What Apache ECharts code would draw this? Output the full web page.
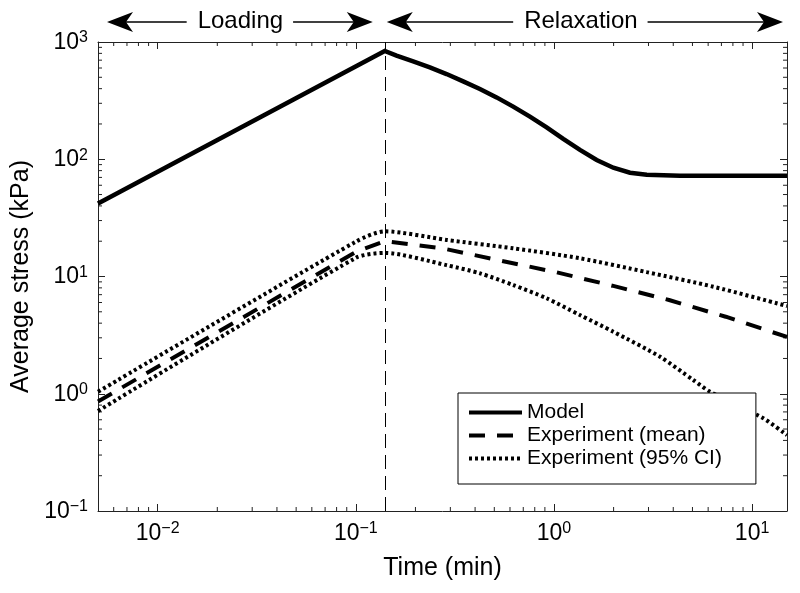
<!DOCTYPE html>
<html><head><meta charset="utf-8">
<script src="https://cdn.jsdelivr.net/npm/echarts@6/dist/echarts.min.js"></script>
<style>html,body{margin:0;padding:0;background:#fff}#c{width:800px;height:593px}</style>
</head><body><div id="c"></div>
<script>
const FONT = "'Liberation Sans', Arial, Helvetica, sans-serif";

// ---- data ----
const modelTime   = [0.005, 0.14, 0.1605, 0.1948, 0.2364, 0.2871, 0.3482, 0.4229, 0.5135, 0.6228, 0.7563, 0.9186, 1.114, 1.353, 1.643, 1.993, 2.42, 2.94, 3.57, 4.33, 15];
const modelStress = [42, 838, 764, 684, 608, 533, 462, 397, 337, 281, 231, 187, 149, 120, 98.5, 84.7, 76.8, 73.8, 72.9, 72.4, 72.4];
const meanTime    = [0.005, 0.1, 0.14, 0.273, 0.523, 1.02, 1.97, 3.81, 7.36, 15];
const meanStress  = [0.86, 16.2, 20.0, 17.4, 13.8, 10.9, 8.35, 6.30, 4.54, 3.05];
const upperTime   = [0.005, 0.1, 0.14, 0.287, 0.623, 1.353, 2.94, 6.38, 15];
const upperStress = [1.04, 19.8, 24.3, 20.5, 17.4, 14.3, 10.9, 8.18, 5.6];
const lowerTime   = [0.005, 0.1, 0.14, 0.287, 0.423, 0.623, 0.918, 1.353, 1.993, 3.43, 5.05, 6.14, 11.4, 15];
const lowerStress = [0.713, 14.4, 15.9, 12.5, 10.65, 8.46, 6.52, 4.69, 3.38, 2.07, 1.31, 1.04, 0.617, 0.443];
const loadEnd = 0.14;
const xRange = [0.005, 15];
const yRange = [0.1, 1000];
const seriesNames = ['Model', 'Experiment (mean)', 'Experiment (95% CI)'];
const phaseLabels = ['Loading', 'Relaxation'];

const zip = (a, b) => a.map((v, i) => [v, b[i]]);

// minor tick positions (2..9 x 10^k) inside the ranges
function minors(r) {
  const out = [];
  for (let k = -4; k <= 4; k++) for (let m = 2; m <= 9; m++) {
    const v = m * Math.pow(10, k);
    if (v > r[0] * 1.0001 && v < r[1] * 0.9999) out.push(v);
  }
  return out;
}
const xMinor = minors(xRange);
const yMinor = minors(yRange);

function powLabel(v) {
  const l = Math.log10(v), e = Math.round(l);
  if (Math.abs(l - e) > 1e-6) return '';
  return '{b|10}{s|' + (e < 0 ? '\u2212' + (-e) : String(e)) + '}';
}
const rich = {
  b: { fontSize: 23, fontFamily: FONT, color: '#000', verticalAlign: 'bottom', lineHeight: 24, padding: [4, 0, 0, 0] },
  s: { fontSize: 16, fontFamily: FONT, color: '#000', verticalAlign: 'top', lineHeight: 16 }
};
const AX = '#222';

const chart = echarts.init(document.getElementById('c'), null, { renderer: 'canvas' });

const tickLen = 4;
const option = {
  animation: false,
  backgroundColor: '#fff',
  grid: { left: 98, right: 13, top: 42, bottom: 82, containLabel: false },
  xAxis: [
    { type: 'log', logBase: 10, min: xRange[0], max: xRange[1], position: 'bottom',
      name: 'Time (min)', nameLocation: 'middle', nameGap: 45,
      nameTextStyle: { fontFamily: FONT, fontSize: 25, color: '#000' },
      axisLine: { show: true, lineStyle: { color: AX, width: 1 } },
      axisTick: { show: true, inside: true, length: 7, lineStyle: { color: AX } },
      axisLabel: { formatter: powLabel, rich: rich, margin: 10, showMinLabel: false, showMaxLabel: false },
      splitLine: { show: false }, minorTick: { show: false } },
    { type: 'log', logBase: 10, min: xRange[0], max: xRange[1], position: 'top',
      axisLine: { show: true, lineStyle: { color: AX, width: 1 } },
      axisTick: { show: true, inside: true, length: 7, lineStyle: { color: AX } },
      axisLabel: { show: false }, splitLine: { show: false } }
  ],
  yAxis: [
    { type: 'log', logBase: 10, min: yRange[0], max: yRange[1], position: 'left',
      name: 'Average stress (kPa)', nameLocation: 'middle', nameGap: 57,
      nameTextStyle: { fontFamily: FONT, fontSize: 25, color: '#000' },
      axisLine: { show: true, lineStyle: { color: AX, width: 1 } },
      axisTick: { show: true, inside: true, length: 7, lineStyle: { color: AX } },
      axisLabel: { formatter: powLabel, rich: rich, margin: 10 },
      splitLine: { show: false } },
    { type: 'log', logBase: 10, min: yRange[0], max: yRange[1], position: 'right',
      axisLine: { show: true, lineStyle: { color: AX, width: 1 } },
      axisTick: { show: true, inside: true, length: 7, lineStyle: { color: AX } },
      axisLabel: { show: false }, splitLine: { show: false } }
  ],
  legend: {
    data: seriesNames, orient: 'vertical', left: 458, top: 393,
    itemWidth: 53, itemHeight: 14, itemGap: 2,
    padding: [9, 34, 15, 9],
    borderColor: '#000', borderWidth: 1, backgroundColor: '#fff',
    textStyle: { fontFamily: FONT, fontSize: 21, color: '#000' },
    itemStyle: { color: 'rgba(0,0,0,0)', borderColor: 'rgba(0,0,0,0)', borderWidth: 0, opacity: 0 },
    lineStyle: { width: 4 },
    selectedMode: false, z: 10
  },
  series: [
    { type: 'custom', silent: true, z: 1, data: xMinor.map(v => [v, 1]),
      renderItem: (p, api) => {
        const v = api.value(0);
        const b = api.coord([v, yRange[0]]), t = api.coord([v, yRange[1]]);
        return { type: 'group', children: [
          { type: 'line', shape: { x1: b[0], y1: b[1], x2: b[0], y2: b[1] - tickLen }, style: { stroke: AX, lineWidth: 1 } },
          { type: 'line', shape: { x1: t[0], y1: t[1], x2: t[0], y2: t[1] + tickLen }, style: { stroke: AX, lineWidth: 1 } }
        ] };
      } },
    { type: 'custom', silent: true, z: 1, data: yMinor.map(v => [1, v]),
      renderItem: (p, api) => {
        const v = api.value(1);
        const l = api.coord([xRange[0], v]), r = api.coord([xRange[1], v]);
        return { type: 'group', children: [
          { type: 'line', shape: { x1: l[0], y1: l[1], x2: l[0] + tickLen, y2: l[1] }, style: { stroke: AX, lineWidth: 1 } },
          { type: 'line', shape: { x1: r[0], y1: r[1], x2: r[0] - tickLen, y2: r[1] }, style: { stroke: AX, lineWidth: 1 } }
        ] };
      } },
    { name: seriesNames[0], type: 'line', data: zip(modelTime, modelStress), symbol: 'none', z: 3,
      itemStyle: { color: '#000' }, lineStyle: { color: '#000', width: 4.5, join: 'miter' },
      markLine: { silent: true, symbol: ['none', 'none'], label: { show: false },
        lineStyle: { color: '#000', width: 1, type: [14, 7] }, data: [{ xAxis: loadEnd }] } },
    { name: seriesNames[1], type: 'line', data: zip(meanTime, meanStress), symbol: 'none', z: 3,
      itemStyle: { color: '#000' }, lineStyle: { color: '#000', width: 4, type: [16, 12] } },
    { name: seriesNames[2], type: 'line', data: zip(upperTime, upperStress), symbol: 'none', z: 3, smooth: 0.25,
      itemStyle: { color: '#000' }, lineStyle: { color: '#000', width: 4, type: [3, 3] } },
    { name: seriesNames[2], type: 'line', data: zip(lowerTime, lowerStress), symbol: 'none', z: 3, smooth: 0.25,
      itemStyle: { color: '#000' }, lineStyle: { color: '#000', width: 4, type: [3, 3] } }
  ]
};
chart.setOption(option);

// ---- top phase annotations (double arrows with labels) ----
const ctx = document.createElement('canvas').getContext('2d');
ctx.font = '24px ' + FONT;
const xl = chart.convertToPixel({ xAxisIndex: 0 }, xRange[0]);
const xm = chart.convertToPixel({ xAxisIndex: 0 }, loadEnd);
const xr = chart.convertToPixel({ xAxisIndex: 0 }, xRange[1]);
const ay = 22;
function head(tip, dir) {
  const L = 26, H = 10, N = 19;
  return { type: 'polygon', shape: { points: [[tip, ay], [tip + dir * L, ay - H], [tip + dir * N, ay], [tip + dir * L, ay + H]] },
    style: { fill: '#000' } };
}
function arrowPair(left, right, center, label) {
  const w = ctx.measureText(label).width;
  return [
    head(left, 1), head(right, -1),
    { type: 'line', shape: { x1: left + 18, y1: ay, x2: center - w / 2 - 11, y2: ay }, style: { stroke: '#000', lineWidth: 1.4 } },
    { type: 'line', shape: { x1: center + w / 2 + 10, y1: ay, x2: right - 18, y2: ay }, style: { stroke: '#000', lineWidth: 1.4 } },
    { type: 'text', x: center, y: ay - 1, style: { text: label, font: '24px ' + FONT, fill: '#000', align: 'center', verticalAlign: 'middle' } }
  ];
}
chart.setOption({ graphic: [
  ...arrowPair(xl + 9, xm - 12, (xl + xm) / 2 - 1, phaseLabels[0]),
  ...arrowPair(xm + 2, xr - 4, (xm + xr) / 2 - 5, phaseLabels[1])
] });
</script></body></html>
